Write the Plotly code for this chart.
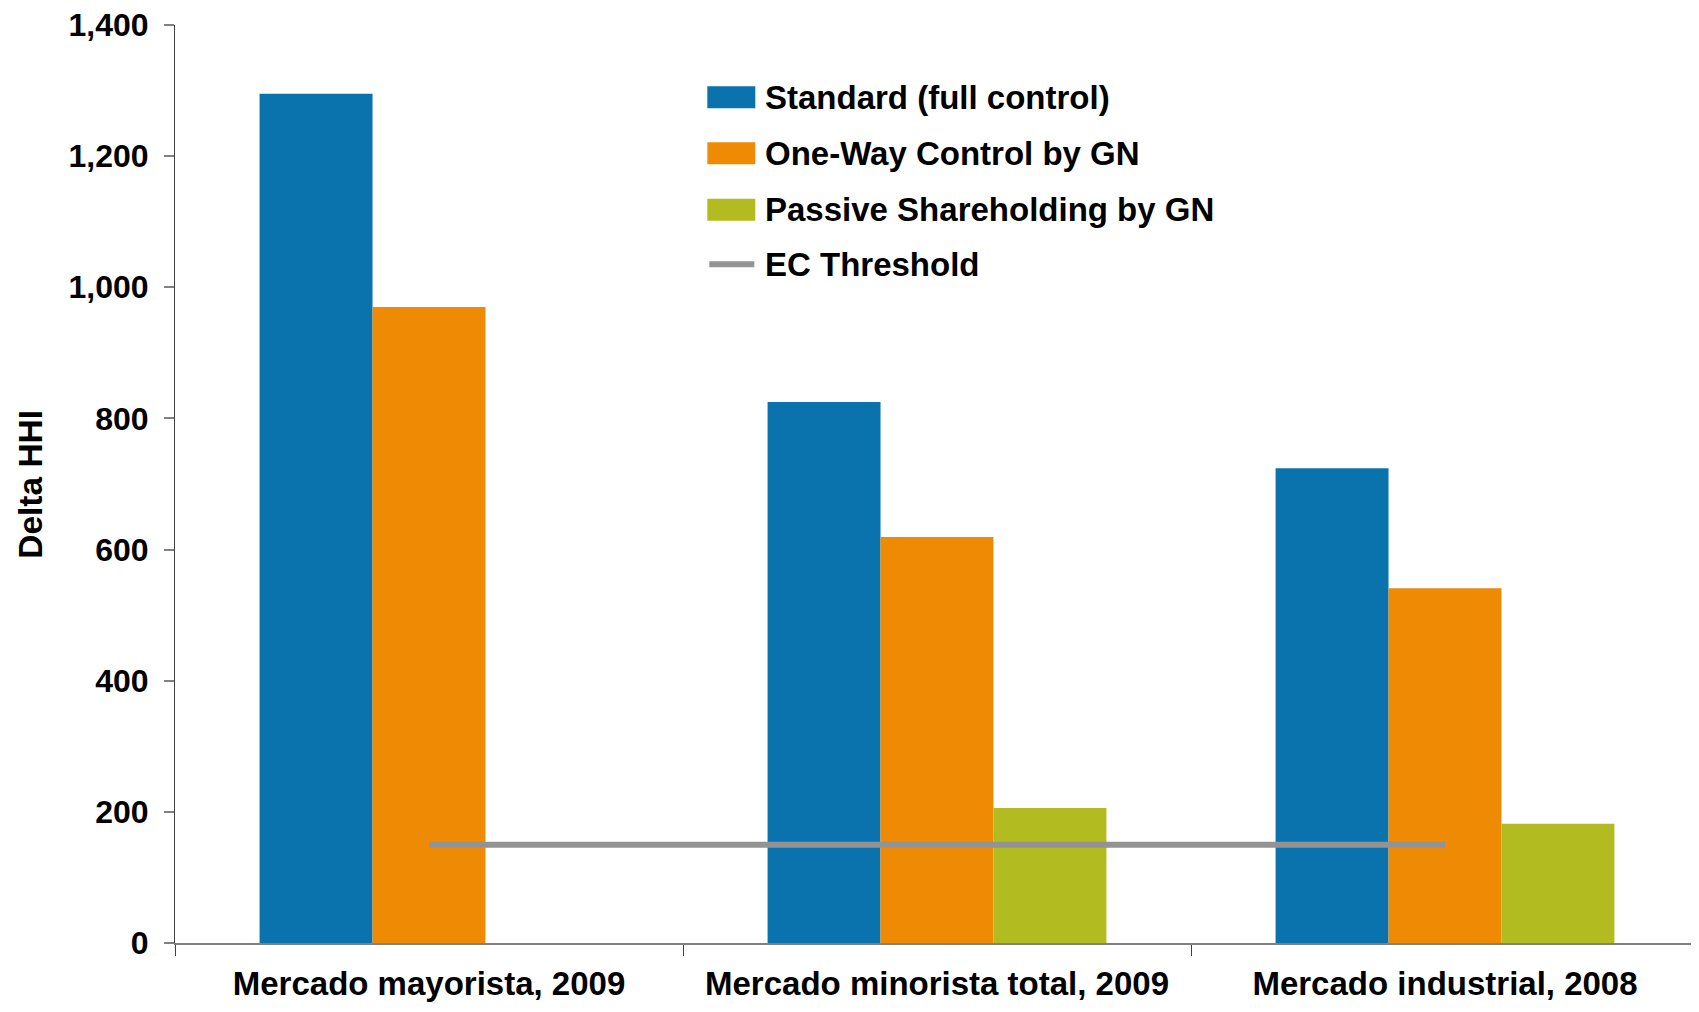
import plotly.graph_objects as go

categories = ["Mercado mayorista, 2009", "Mercado minorista total, 2009", "Mercado industrial, 2008"]
standard = [1295, 825, 724]
one_way = [970, 619, 541]
passive = [None, 206, 182]
threshold = [150, 150, 150]
y_ticks = [0, 200, 400, 600, 800, 1000, 1200, 1400]

series_names = ["Standard (full control)", "One-Way Control by GN", "Passive Shareholding by GN", "EC Threshold"]
colors = ["#0A72AD", "#EE8A04", "#B2BB1F", "#939393"]

FONT = "Liberation Sans, Arial, Helvetica, sans-serif"

fig = go.Figure()
for name, vals, col in zip(series_names[:3], [standard, one_way, passive], colors[:3]):
    fig.add_trace(go.Bar(x=categories, y=vals, name=name, marker=dict(color=col, line=dict(width=0)),
                         showlegend=False))
fig.add_trace(go.Scatter(x=categories, y=threshold, mode="lines", name=series_names[3],
                         line=dict(color=colors[3], width=6), showlegend=False))

# page has an 8px body margin; figure sized to avoid scrollbars
OFF = 8
W, H = 1691, 996
ml, mr, mt, mb = 166.5, 0, 16.8, 61.3
pw, ph = W - ml - mr, H - mt - mb

def px_x(x_page):
    return (x_page - OFF - ml) / pw

def px_y(y_page):
    return (H - mb - (y_page - OFF)) / ph

shapes = []
annotations = []
row_centers = [97.0, 153.0, 209.5, 264.0]
for i, (name, col) in enumerate(zip(series_names, colors)):
    yc = row_centers[i]
    if i < 3:
        shapes.append(dict(type="rect", xref="paper", yref="paper",
                           x0=px_x(707), x1=px_x(755), y0=px_y(yc + 11), y1=px_y(yc - 11),
                           fillcolor=col, line=dict(width=0)))
    else:
        shapes.append(dict(type="line", xref="paper", yref="paper",
                           x0=px_x(709), x1=px_x(754), y0=px_y(yc), y1=px_y(yc),
                           line=dict(color=col, width=6)))
    annotations.append(dict(text=name, xref="paper", yref="paper", x=px_x(763), y=px_y(yc),
                            xanchor="left", yanchor="middle", showarrow=False,
                            font=dict(family=FONT, size=33, color="#000000", weight="bold")))

annotations.append(dict(text="Delta HHI", xref="paper", yref="paper", x=px_x(30), y=px_y(484),
                        xanchor="center", yanchor="middle", textangle=-90, showarrow=False,
                        font=dict(family=FONT, size=33.5, color="#000000", weight="bold")))

fig.update_layout(
    width=W, height=H,
    margin=dict(l=ml, r=mr, t=mt, b=mb, autoexpand=False),
    paper_bgcolor="white", plot_bgcolor="white",
    barmode="group", bargap=0.333, bargroupgap=0,
    shapes=shapes, annotations=annotations,
    xaxis=dict(showgrid=False, zeroline=False, showline=True, linecolor="#808080", linewidth=2,
               ticks="outside", tickson="boundaries", ticklen=11, tickcolor="#404040", tickwidth=1,
               tickfont=dict(family=FONT, size=33, color="#000000", weight="bold"),
               ticklabelstandoff=10, automargin=False, ticklabeloverflow="allow"),
    yaxis=dict(range=[0, 1400], tickvals=y_ticks, tickformat=",", showgrid=False, zeroline=False,
               showline=True, linecolor="#404040", linewidth=1,
               ticks="outside", ticklen=10, tickcolor="#808080", tickwidth=2,
               tickfont=dict(family=FONT, size=32, color="#000000", weight="bold"),
               ticklabelstandoff=9, automargin=False, ticklabeloverflow="allow"),
)

fig.write_html("out.html")
